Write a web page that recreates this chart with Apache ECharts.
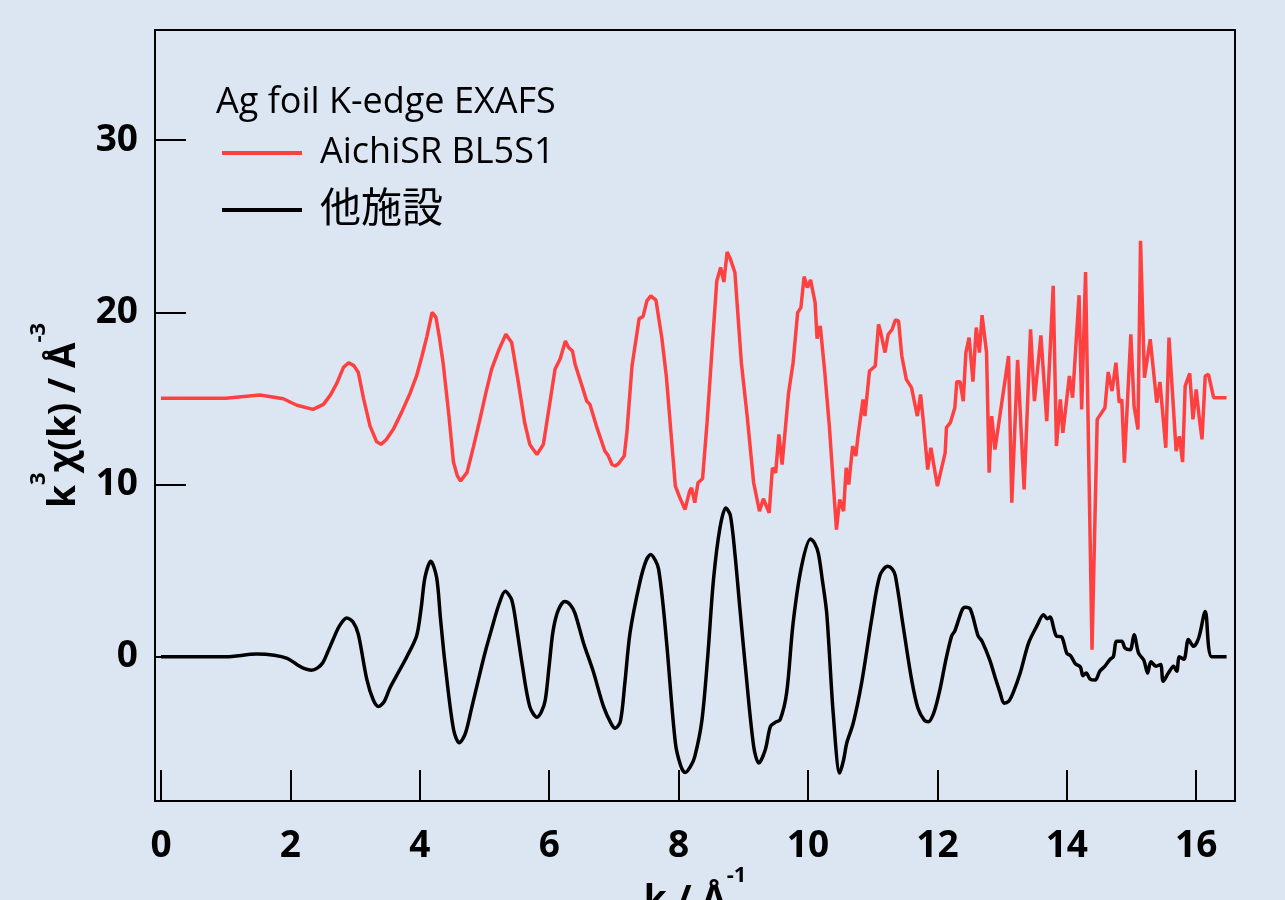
<!DOCTYPE html>
<html>
<head>
<meta charset="utf-8">
<script src="https://cdn.jsdelivr.net/npm/echarts@6/dist/echarts.min.js"></script>
<style>
html,body{margin:0;padding:0;background:#DCE6F2;}
#chart{width:1285px;height:900px;}
</style>
</head>
<body>
<div id="chart"></div>
<script>
const legendTitle = 'Ag foil K-edge EXAFS';
const seriesNames = ['AichiSR BL5S1', '他施設'];
const xTicks = [0, 2, 4, 6, 8, 10, 12, 14, 16];
const yTicks = [0, 10, 20, 30];

// 他施設 (black)
const kBlack = [0.0,0.5,1.0,1.48,1.75,1.95,2.10,2.22,2.33,2.42,2.50,2.58,2.66,2.76,2.87,2.97,3.05,3.18,3.28,3.36,3.45,3.54,3.67,3.80,3.95,4.02,4.08,4.17,4.26,4.32,4.39,4.52,4.61,4.70,4.80,4.93,5.02,5.11,5.22,5.32,5.42,5.50,5.58,5.70,5.81,5.88,5.94,6.00,6.06,6.14,6.24,6.33,6.40,6.53,6.68,6.84,6.96,7.02,7.10,7.17,7.25,7.40,7.50,7.57,7.64,7.69,7.76,7.82,7.95,8.03,8.10,8.18,8.25,8.36,8.45,8.54,8.64,8.73,8.80,8.87,8.95,9.03,9.16,9.24,9.34,9.42,9.50,9.57,9.67,9.77,9.90,10.04,10.10,10.16,10.22,10.29,10.39,10.49,10.55,10.60,10.70,10.83,10.99,11.11,11.23,11.30,11.35,11.47,11.60,11.70,11.80,11.86,11.95,12.04,12.13,12.22,12.27,12.38,12.43,12.51,12.63,12.69,12.81,12.90,12.97,13.03,13.10,13.17,13.28,13.41,13.54,13.64,13.70,13.74,13.84,13.92,14.00,14.06,14.13,14.21,14.25,14.30,14.36,14.44,14.51,14.59,14.67,14.72,14.77,14.85,14.90,14.98,15.04,15.11,15.19,15.25,15.30,15.38,15.45,15.49,15.57,15.65,15.70,15.74,15.81,15.88,15.96,16.04,16.14,16.24,16.47];
const chiBlack = [0.0,0.0,0.0,0.15,0.08,-0.1,-0.45,-0.7,-0.79,-0.65,-0.35,0.3,1.0,1.8,2.25,2.0,1.3,-1.3,-2.5,-2.89,-2.6,-1.8,-0.9,0.0,1.2,2.8,4.6,5.54,4.6,2.2,-0.4,-4.2,-5.0,-4.5,-3.0,-0.95,0.4,1.6,3.0,3.8,3.3,1.6,-0.4,-2.9,-3.51,-3.2,-2.5,-0.5,1.5,2.7,3.2,3.0,2.5,0.8,-0.85,-2.9,-3.9,-4.15,-3.76,-1.5,1.4,4.3,5.6,5.93,5.6,5.1,3.0,0.6,-5.0,-6.3,-6.73,-6.4,-5.8,-3.7,0.0,4.5,7.5,8.64,8.2,6.0,2.7,-0.5,-5.2,-6.18,-5.4,-4.05,-3.8,-3.66,-2.1,1.96,5.25,6.84,6.6,6.0,4.5,2.5,-3.3,-6.76,-6.0,-5.0,-3.85,-1.5,2.3,4.7,5.25,5.1,4.7,1.8,-1.3,-3.0,-3.7,-3.78,-3.2,-1.9,-0.2,1.2,1.5,2.7,2.87,2.75,1.2,0.9,-0.2,-1.3,-2.1,-2.7,-2.6,-2.1,-0.95,0.8,1.8,2.44,2.2,2.3,1.2,1.15,0.2,0.05,-0.4,-0.6,-1.1,-0.95,-1.3,-1.35,-0.85,-0.55,-0.15,0.0,0.9,0.9,0.5,0.4,1.28,0.2,-0.2,-0.95,-0.3,-0.55,-0.45,-1.43,-0.95,-0.55,-0.85,0.0,-0.15,1.0,0.6,1.1,2.63,0.0,0.0];

// AichiSR BL5S1 (red, plotted with its offset)
const kRed = [0.0,0.5,1.0,1.53,1.89,2.10,2.35,2.51,2.62,2.72,2.82,2.90,2.98,3.05,3.13,3.23,3.33,3.40,3.48,3.59,3.72,3.85,3.95,4.03,4.11,4.19,4.25,4.30,4.36,4.45,4.52,4.58,4.63,4.73,4.83,4.93,5.02,5.11,5.22,5.33,5.42,5.52,5.62,5.70,5.74,5.81,5.91,6.00,6.09,6.17,6.25,6.30,6.36,6.40,6.50,6.58,6.63,6.73,6.86,6.91,6.97,7.02,7.07,7.10,7.16,7.20,7.28,7.39,7.45,7.51,7.57,7.65,7.74,7.81,7.95,8.02,8.10,8.17,8.20,8.25,8.30,8.37,8.44,8.51,8.59,8.65,8.70,8.75,8.80,8.87,8.97,9.06,9.16,9.25,9.31,9.34,9.40,9.45,9.50,9.55,9.60,9.70,9.77,9.84,9.89,9.94,9.99,10.04,10.11,10.14,10.19,10.26,10.33,10.39,10.44,10.49,10.55,10.59,10.63,10.69,10.74,10.77,10.85,10.88,10.95,11.04,11.09,11.12,11.19,11.24,11.30,11.35,11.40,11.45,11.52,11.60,11.69,11.74,11.78,11.85,11.90,12.00,12.12,12.14,12.20,12.27,12.30,12.35,12.40,12.44,12.49,12.55,12.60,12.65,12.69,12.76,12.80,12.84,12.89,13.10,13.15,13.24,13.34,13.44,13.50,13.60,13.69,13.79,13.84,13.90,13.94,14.04,14.09,14.19,14.23,14.29,14.39,14.47,14.59,14.64,14.70,14.76,14.81,14.85,14.89,14.99,15.04,15.10,15.14,15.20,15.29,15.39,15.44,15.53,15.58,15.69,15.74,15.79,15.83,15.90,15.95,16.00,16.05,16.09,16.14,16.19,16.27,16.47];
const chiRed = [15.0,15.0,15.0,15.19,14.98,14.6,14.36,14.65,15.2,15.9,16.8,17.07,16.9,16.5,15.0,13.4,12.5,12.33,12.6,13.2,14.2,15.3,16.3,17.4,18.6,20.0,19.7,18.6,17.07,14.0,11.3,10.5,10.2,10.7,12.2,13.8,15.3,16.7,17.8,18.72,18.24,16.0,13.6,12.33,12.1,11.74,12.33,14.5,16.69,17.3,18.33,17.95,17.75,16.98,15.81,14.84,14.65,13.39,11.94,11.69,11.16,11.07,11.2,11.16,11.65,13.0,16.88,19.63,19.75,20.66,20.95,20.70,18.53,16.3,9.9,9.22,8.55,9.61,9.8,8.94,10.1,10.33,13.59,17.46,21.82,22.6,21.76,23.5,23.1,22.31,17.07,13.97,10.1,8.45,9.17,9.17,8.35,10.97,10.68,12.91,11.16,15.33,17.07,19.98,20.27,22.07,21.44,21.88,20.56,18.47,19.2,16.49,13.39,10.1,7.38,9.13,8.45,10.97,10.0,12.23,11.65,12.72,14.94,13.97,16.59,16.88,19.3,18.9,17.66,18.72,19.0,19.55,19.5,17.46,16.1,15.62,13.97,15.23,13.78,10.87,12.13,9.9,11.84,13.3,13.59,14.46,15.97,15.97,14.84,17.66,18.53,15.97,19.11,17.66,19.83,17.66,10.68,13.97,12.03,17.46,8.94,17.23,9.71,19.01,14.84,18.66,13.68,21.53,12.23,14.94,13.0,16.3,15.04,20.99,14.36,22.34,0.4,13.78,14.46,16.53,15.42,17.07,14.75,14.94,11.26,18.72,14.55,13.2,24.15,16.2,18.43,14.75,15.95,12.13,18.53,11.94,12.8,11.3,15.72,16.45,13.78,15.52,13.78,12.62,16.3,16.4,15.04,15.04];

const FONT = "'Open Sans', 'Noto Sans CJK JP', sans-serif";
const pairs = (xs, ys) => xs.map((x, i) => [x, ys[i]]);

const chart = echarts.init(document.getElementById('chart'), null, {renderer: 'canvas'});
const nameRich = {
  m: {fontSize: 37, fontWeight: 'bold', lineHeight: 72, fontFamily: FONT, color: '#000'},
  s: {fontSize: 22, fontWeight: 'bold', lineHeight: 22, verticalAlign: 'top', fontFamily: FONT, color: '#000'}
};
chart.setOption({
  animation: false,
  backgroundColor: '#DCE6F2',
  title: {
    text: legendTitle, left: 211, top: 77,
    textStyle: {fontFamily: FONT, fontSize: 36, fontWeight: 'normal', color: '#000', lineHeight: 42}
  },
  legend: {
    orient: 'vertical', left: 217, top: 127,
    itemWidth: 80, itemHeight: 4, itemGap: 15, icon: 'rect',
    textStyle: {fontFamily: FONT, fontSize: 36, color: '#000', lineHeight: 42, padding: [0, 0, 0, 13],
      rich: {cjk: {fontFamily: FONT, fontSize: 41, color: '#000', lineHeight: 42}}},
    formatter: function (name) { return name === seriesNames[1] ? '{cjk|' + name + '}' : name; },
    data: seriesNames
  },
  grid: {left: 155, top: 30, width: 1080, height: 771, show: true, borderColor: '#000', borderWidth: 2,
    backgroundColor: 'transparent', containLabel: false, outerBoundsMode: 'none'},
  xAxis: {
    type: 'value', min: -0.093, max: 16.6,
    name: '{m|k / Å}{s|-1}', nameLocation: 'middle', nameGap: 64, nameMoveOverlap: false,
    nameTextStyle: {rich: nameRich},
    axisLine: {show: true, onZero: false, lineStyle: {color: '#000', width: 2}},
    axisTick: {show: true, inside: true, length: 31, lineStyle: {color: '#000', width: 2}, customValues: xTicks},
    axisLabel: {customValues: xTicks, margin: 25, fontSize: 37, fontWeight: 'bold', color: '#000', fontFamily: FONT, lineHeight: 40},
    splitLine: {show: false}
  },
  yAxis: {
    type: 'value', min: -8.38, max: 36.39,
    name: '{m|k}{s|3}{m|χ(k) / Å}{s|-3}', nameLocation: 'middle', nameRotate: 90, nameGap: 55, nameMoveOverlap: false,
    nameTextStyle: {rich: nameRich},
    axisLine: {show: true, onZero: false, lineStyle: {color: '#000', width: 2}},
    axisTick: {show: true, inside: true, length: 31, lineStyle: {color: '#000', width: 2}, customValues: yTicks},
    axisLabel: {customValues: yTicks, margin: 17, fontSize: 37, fontWeight: 'bold', color: '#000', fontFamily: FONT},
    splitLine: {show: false}
  },
  series: [
    {name: seriesNames[0], type: 'line', data: pairs(kRed, chiRed), showSymbol: false, symbol: 'none',
     lineStyle: {color: '#FF4040', width: 3.5}, itemStyle: {color: '#FF4040'}, smooth: false},
    {name: seriesNames[1], type: 'line', data: pairs(kBlack, chiBlack), showSymbol: false, symbol: 'none',
     lineStyle: {color: '#000', width: 3.5}, itemStyle: {color: '#000'}, smooth: 0.3}
  ]
});
</script>
</body>
</html>
